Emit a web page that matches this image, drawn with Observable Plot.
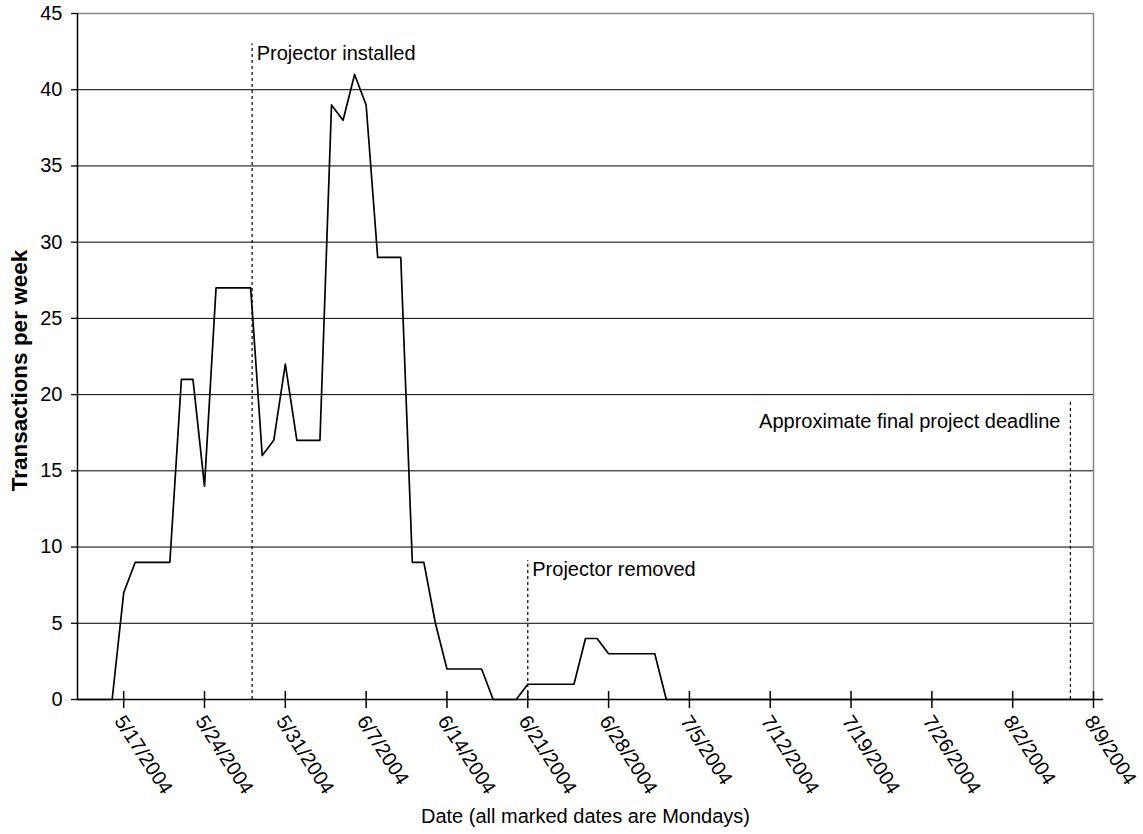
<!DOCTYPE html>
<html>
<head>
<meta charset="utf-8">
<script src="https://cdn.jsdelivr.net/npm/d3@7"></script>
<script src="https://cdn.jsdelivr.net/npm/@observablehq/plot@0.6"></script>
<style>
  html, body { margin: 0; padding: 0; background: #fff; }
  #chart svg { font-family: "Liberation Sans", Arial, sans-serif; }
</style>
</head>
<body>
<div id="chart"></div>
<script>
// ---- data ----
const startDate = "2004-05-13";
const endDate = "2004-08-09";
// daily transactions (per week, rolling), 5/13/2004 .. 8/9/2004
const values = [
  0, 0, 0, 0, 7, 9, 9, 9, 9, 21,      // 5/13 - 5/22
  21, 14, 27, 27, 27, 27, 16, 17, 22, 17, // 5/23 - 6/1
  17, 17, 39, 38, 41, 39, 29, 29, 29, 9,  // 6/2 - 6/11
  9, 5, 2, 2, 2, 2, 0, 0, 0, 1,       // 6/12 - 6/21
  1, 1, 1, 1, 4, 4, 3, 3, 3, 3,       // 6/22 - 7/1
  3, 0, 0, 0, 0, 0, 0, 0, 0, 0,       // 7/2 - 7/11
  0, 0, 0, 0, 0, 0, 0, 0, 0, 0,       // 7/12 - 7/21
  0, 0, 0, 0, 0, 0, 0, 0, 0, 0,       // 7/22 - 7/31
  0, 0, 0, 0, 0, 0, 0, 0, 0           // 8/1 - 8/9
];
const tickDates = ["2004-05-17","2004-05-24","2004-05-31","2004-06-07","2004-06-14","2004-06-21",
  "2004-06-28","2004-07-05","2004-07-12","2004-07-19","2004-07-26","2004-08-02","2004-08-09"];
const yTicks = [0, 5, 10, 15, 20, 25, 30, 35, 40, 45];
const eventLabels = ["Projector installed", "Projector removed", "Approximate final project deadline"];
const eventDates = ["2004-05-28T03:00Z", "2004-06-21", "2004-08-07"];
const eventTop = [43, 9.1, 19.5];
const eventTextY = [42.4, 8.5, 18.25];

// ---- build ----
const parse = s => new Date(s);
const days = d3.utcDay.range(parse(startDate), d3.utcDay.offset(parse(endDate), 1));
const series = values.map((v, i) => ({date: days[i], value: v}));
const ticks = tickDates.map(parse);
const events = eventLabels.map((l, i) => ({
  label: l, date: parse(eventDates[i]), top: eventTop[i], ty: eventTextY[i],
  anchor: i === 2 ? "end" : "start"
}));

const fmt = d3.utcFormat("%-m/%-d/%Y");
const FS = 20;

const chart = Plot.plot({
  width: 1143,
  height: 834,
  marginLeft: 77,
  marginRight: 50,
  marginTop: 13,
  marginBottom: 135,
  style: {fontFamily: "'Liberation Sans', Arial, sans-serif", fontSize: FS + "px", color: "#000", background: "#fff"},
  x: {type: "utc", domain: [parse(startDate), parse(endDate)]},
  y: {domain: [0, 45]},
  marks: [
    Plot.ruleY(yTicks.filter(t => t > 0 && t < 45), {stroke: "#000", strokeWidth: 1}),
    Plot.ruleY([45], {stroke: "#888", strokeWidth: 1.5}),
    Plot.ruleX([parse(endDate)], {stroke: "#888", strokeWidth: 1.5}),
    Plot.axisY({ticks: yTicks, tickSize: 6, tickPadding: 9, label: null, fontSize: FS, stroke: "#000", strokeWidth: 1.3}),
    Plot.axisX({ticks, tickSize: 17, dy: -8, text: null, label: null, stroke: "#000", strokeWidth: 1.5}),
    Plot.axisX({ticks, tickSize: 0, tickPadding: 18, dx: -4.5, tickRotate: 57, tickFormat: fmt, label: null, fontSize: FS}),
    Plot.ruleX(events, {x: "date", y1: 0, y2: "top", stroke: "#000", strokeWidth: 1.2, strokeDasharray: "3,3"}),
    Plot.text(events.filter(e => e.anchor === "start"), {x: "date", y: "ty", text: "label", textAnchor: "start", dx: 4.5, fontSize: FS, fill: "#000"}),
    Plot.text(events.filter(e => e.anchor === "end"), {x: "date", y: "ty", text: "label", textAnchor: "end", dx: -10, fontSize: FS, fill: "#000"}),
    Plot.line(series, {x: "date", y: "value", stroke: "#000", strokeWidth: 1.7}),
    Plot.ruleX([parse(startDate)], {stroke: "#000", strokeWidth: 1.5}),
    Plot.ruleY([0], {stroke: "#000", strokeWidth: 1.5, insetRight: -10}),
    Plot.text(["Transactions per week"], {frameAnchor: "left", textAnchor: "middle", lineAnchor: "middle", rotate: -90, dx: -58, dy: 14, fontWeight: "bold", fontSize: 22.5, fill: "#000"}),
    Plot.text(["Date (all marked dates are Mondays)"], {frameAnchor: "bottom", textAnchor: "middle", lineAnchor: "middle", dy: 117.5, fontSize: FS, fill: "#000"})
  ]
});
document.getElementById("chart").appendChild(chart);
</script>
</body>
</html>
